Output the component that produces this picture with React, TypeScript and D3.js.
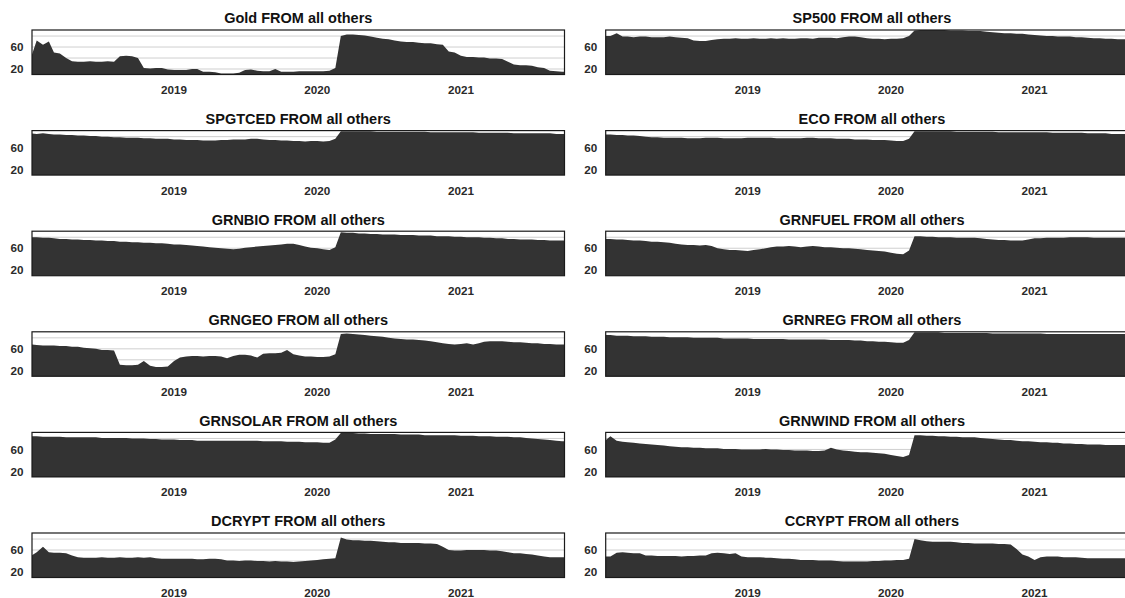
import React from "react";
import * as d3 from "d3";

// Semi-monthly observation dates (1st and 16th of each month), Jan 2018 – Sep 2021
const months = d3.timeMonth.range(new Date(2018, 0, 1), new Date(2021, 9, 1));
const dates: Date[] = months.flatMap((m) => [m, d3.timeDay.offset(m, 15)]);

const xStart = new Date(2018, 0, 4);
const xEnd = new Date(2021, 8, 22);

const yearTicks = [2019, 2020, 2021];
const gridValues = [20, 40, 60, 80];
const yLabelValues = [20, 60];

const panelTitles = [
  "Gold", "SP500", "SPGTCED", "ECO", "GRNBIO", "GRNFUEL",
  "GRNGEO", "GRNREG", "GRNSOLAR", "GRNWIND", "DCRYPT", "CCRYPT",
];

// Total connectedness received FROM all other markets (%)
const gold = [
  40, 72, 64, 70, 50, 48, 40, 34, 33, 33, 34, 33, 33, 34, 33, 43, 44, 43, 40, 22, 21, 22, 22, 19,
  18, 18, 18, 20, 20, 15, 15, 14, 12, 12, 12, 13, 18, 19, 17, 16, 16, 20, 15, 15, 15, 16, 16, 16,
  16, 16, 17, 22, 80, 83, 83, 82, 81, 79, 77, 75, 74, 72, 70, 69, 69, 68, 67, 67, 65, 64, 52, 50,
  44, 42, 42, 41, 41, 39, 39, 38, 33, 28, 27, 27, 26, 23, 22, 17, 16, 15,
];
const sp500 = [
  80, 80, 85, 79, 79, 78, 79, 79, 78, 78, 78, 79, 78, 77, 76, 72, 71, 71, 73, 74, 75, 75, 76, 75,
  75, 76, 75, 75, 76, 75, 76, 75, 75, 76, 76, 75, 77, 77, 77, 76, 78, 79, 79, 78, 76, 75, 75, 74,
  75, 75, 76, 80, 90, 91, 91, 91, 91, 91, 90, 90, 90, 89, 89, 89, 88, 87, 86, 85, 85, 84, 84, 83,
  82, 81, 80, 80, 79, 79, 79, 78, 78, 77, 76, 76, 75, 75, 74, 74, 74, 74,
];
const spgtced = [
  86, 85, 86, 85, 84, 84, 83, 83, 82, 82, 81, 81, 80, 80, 79, 79, 78, 78, 78, 77, 77, 76, 76, 76,
  75, 75, 74, 74, 74, 73, 73, 73, 74, 74, 75, 75, 75, 76, 76, 75, 74, 74, 73, 73, 72, 72, 71, 72,
  72, 71, 72, 76, 90, 90, 90, 90, 90, 90, 89, 89, 89, 89, 89, 89, 89, 89, 89, 88, 88, 88, 88, 88,
  88, 88, 88, 87, 87, 87, 87, 87, 87, 86, 86, 86, 86, 86, 86, 86, 85, 85,
];
const eco = [
  84, 84, 83, 83, 82, 82, 81, 80, 79, 79, 78, 78, 78, 78, 77, 77, 77, 78, 78, 78, 77, 77, 77, 77,
  78, 78, 78, 78, 78, 77, 77, 77, 77, 77, 78, 78, 77, 77, 77, 76, 76, 76, 75, 75, 75, 74, 74, 74,
  73, 72, 72, 76, 90, 90, 90, 90, 90, 90, 90, 89, 89, 89, 89, 89, 89, 89, 88, 88, 88, 88, 88, 88,
  88, 88, 88, 87, 87, 87, 87, 87, 87, 86, 86, 86, 86, 85, 85, 85, 85, 85,
];
const grnbio = [
  80, 80, 79, 79, 78, 77, 77, 76, 76, 75, 75, 74, 74, 73, 73, 72, 72, 71, 71, 70, 70, 69, 69, 68,
  67, 67, 66, 65, 64, 63, 62, 61, 60, 59, 58, 59, 61, 62, 63, 64, 65, 66, 67, 68, 68, 66, 63, 61,
  60, 58, 57, 62, 89, 88, 88, 87, 87, 86, 86, 85, 85, 85, 84, 84, 84, 83, 83, 83, 82, 82, 82, 81,
  81, 80, 80, 80, 79, 79, 78, 78, 77, 77, 76, 76, 76, 75, 75, 74, 74, 74,
];
const grnfuel = [
  77, 77, 76, 76, 75, 74, 74, 73, 72, 72, 71, 70, 68, 67, 66, 66, 65, 66, 64, 60, 58, 57, 57, 56,
  55, 57, 58, 60, 62, 63, 63, 64, 63, 62, 63, 64, 63, 62, 62, 61, 60, 60, 59, 58, 57, 56, 55, 54,
  52, 50, 49, 56, 82, 82, 81, 81, 80, 80, 80, 79, 79, 79, 79, 78, 77, 76, 75, 75, 74, 74, 74, 76,
  78, 78, 79, 79, 79, 79, 80, 80, 80, 80, 79, 79, 79, 79, 79, 79, 79, 79,
];
const grngeo = [
  68, 67, 66, 66, 66, 65, 65, 64, 64, 62, 61, 60, 58, 58, 57, 31, 30, 30, 31, 38, 29, 27, 27, 28,
  38, 44, 46, 47, 47, 46, 47, 47, 46, 43, 47, 49, 49, 48, 44, 51, 52, 52, 53, 58, 50, 48, 46, 46,
  45, 45, 46, 50, 87, 88, 87, 86, 85, 84, 83, 82, 80, 79, 78, 77, 77, 76, 75, 74, 72, 70, 69, 68,
  69, 70, 68, 70, 73, 74, 74, 74, 73, 72, 72, 71, 70, 70, 69, 69, 68, 68,
];
const grnreg = [
  85, 85, 84, 84, 84, 83, 83, 83, 82, 82, 82, 81, 81, 81, 81, 80, 80, 80, 80, 80, 79, 79, 79, 79,
  79, 78, 78, 78, 78, 78, 78, 77, 77, 77, 77, 77, 77, 77, 76, 76, 76, 76, 75, 75, 74, 74, 73, 73,
  72, 71, 71, 76, 90, 90, 90, 90, 90, 89, 89, 89, 89, 89, 89, 89, 89, 88, 88, 88, 88, 88, 88, 88,
  88, 88, 87, 87, 87, 87, 87, 87, 87, 87, 87, 87, 87, 87, 87, 87, 87, 87,
];
const grnsolar = [
  84, 84, 83, 83, 83, 83, 82, 82, 82, 82, 82, 82, 81, 81, 81, 81, 81, 80, 80, 80, 79, 79, 78, 78,
  78, 77, 77, 77, 76, 76, 76, 76, 76, 76, 76, 76, 76, 76, 76, 75, 75, 75, 75, 74, 74, 74, 73, 73,
  73, 72, 72, 78, 90, 90, 90, 89, 89, 88, 88, 88, 88, 88, 87, 87, 87, 87, 86, 86, 86, 86, 86, 86,
  85, 85, 85, 84, 84, 84, 83, 83, 83, 82, 82, 81, 80, 79, 78, 77, 76, 75,
];
const grnwind = [
  75, 84, 76, 74, 73, 72, 71, 70, 69, 68, 67, 66, 65, 64, 64, 63, 63, 62, 62, 62, 61, 61, 61, 60,
  60, 60, 60, 61, 60, 60, 59, 59, 58, 58, 58, 57, 57, 58, 63, 60, 58, 57, 56, 55, 55, 54, 53, 52,
  50, 48, 46, 50, 86, 86, 85, 85, 84, 84, 83, 83, 82, 82, 82, 81, 80, 79, 78, 77, 77, 76, 75, 75,
  74, 73, 73, 72, 72, 71, 71, 70, 70, 69, 69, 69, 68, 68, 68, 68, 68, 68,
];
const dcrypt = [
  49, 56, 66, 56, 55, 55, 54, 50, 47, 46, 46, 46, 47, 46, 46, 47, 46, 46, 47, 46, 47, 45, 44, 44,
  44, 44, 44, 44, 43, 43, 44, 44, 43, 41, 41, 40, 41, 41, 40, 40, 39, 40, 39, 39, 38, 39, 40, 41,
  42, 43, 44, 45, 83, 79, 78, 78, 77, 77, 76, 75, 74, 74, 73, 73, 73, 73, 72, 72, 71, 66, 60, 59,
  59, 60, 60, 60, 60, 59, 59, 58, 56, 54, 54, 53, 52, 50, 48, 47, 47, 47,
];
const ccrypt = [
  48, 48, 55, 56, 55, 54, 54, 50, 50, 49, 49, 49, 49, 48, 49, 49, 50, 50, 54, 55, 54, 53, 54, 48,
  47, 47, 47, 46, 46, 45, 44, 44, 43, 42, 42, 42, 41, 41, 41, 40, 39, 39, 39, 39, 39, 40, 40, 41,
  41, 42, 42, 44, 80, 78, 76, 75, 75, 75, 75, 74, 73, 73, 72, 72, 72, 72, 71, 71, 70, 62, 52, 48,
  42, 47, 48, 48, 48, 47, 47, 47, 46, 45, 45, 45, 45, 45, 45, 45, 45, 45,
];

const panelValues = [
  gold, sp500, spgtced, eco, grnbio, grnfuel,
  grngeo, grnreg, grnsolar, grnwind, dcrypt, ccrypt,
];

const W = 1125;
const H = 598;
const plotW = 532.5;
const plotH = 44.5;
const colLeft = [32, 605.7];
const rowTop0 = 30;
const rowStep = 100.6;
const font = "'Liberation Sans', Arial, Helvetica, sans-serif";

const x = d3.scaleTime().domain([xStart, xEnd]).range([0, plotW]);
const y = d3.scaleLinear().domain([10, 91]).range([plotH, 0]);

type Pt = { d: Date; v: number };

const area = d3
  .area<Pt>()
  .x((p) => x(p.d))
  .y0(plotH)
  .y1((p) => y(p.v))
  .curve(d3.curveLinear);

function Panel({ k }: { k: number }) {
  const col = k % 2;
  const row = Math.floor(k / 2);
  const left = colLeft[col];
  const top = rowTop0 + row * rowStep;
  const vals = panelValues[k];
  const pts: Pt[] = dates.map((d, i) => ({ d, v: vals[i] }));
  pts.push({ d: xEnd, v: vals[vals.length - 1] });
  const clipId = `clip-${k}`;
  return (
    <g transform={`translate(${left},${top})`}>
      <defs>
        <clipPath id={clipId}>
          <rect x={0} y={0} width={plotW} height={plotH} />
        </clipPath>
      </defs>
      <text
        x={plotW / 2}
        y={-6.7}
        textAnchor="middle"
        fontFamily={font}
        fontWeight="bold"
        fontSize={14.5}
        fill="#111"
      >
        {`${panelTitles[k]} FROM all others`}
      </text>
      {gridValues.map((g) => (
        <line
          key={g}
          x1={0}
          x2={plotW}
          y1={y(g)}
          y2={y(g)}
          stroke="#cfcfcf"
          strokeWidth={1}
        />
      ))}
      <path d={area(pts) ?? ""} fill="#333333" clipPath={`url(#${clipId})`} />
      <rect
        x={0}
        y={0}
        width={plotW}
        height={plotH}
        fill="none"
        stroke="#1a1a1a"
        strokeWidth={1.2}
      />
      {yLabelValues.map((v) => (
        <text
          key={v}
          x={-8.5}
          y={y(v)}
          dy="0.36em"
          textAnchor="end"
          fontFamily={font}
          fontWeight="bold"
          fontSize={11.7}
          fill="#2a2a2a"
        >
          {v}
        </text>
      ))}
      {yearTicks.map((yr) => (
        <text
          key={yr}
          x={x(new Date(yr, 0, 1))}
          y={plotH + 19.5}
          textAnchor="middle"
          fontFamily={font}
          fontWeight="bold"
          fontSize={11.7}
          fill="#2a2a2a"
        >
          {yr}
        </text>
      ))}
    </g>
  );
}

export default function App() {
  return (
    <svg
      width={W}
      height={H}
      viewBox={`0 0 ${W} ${H}`}
      style={{ position: "absolute", left: 0, top: 0, background: "#fff" }}
    >
      <rect x={0} y={0} width={W} height={H} fill="#fff" />
      {panelTitles.map((_, k) => (
        <Panel key={k} k={k} />
      ))}
    </svg>
  );
}
